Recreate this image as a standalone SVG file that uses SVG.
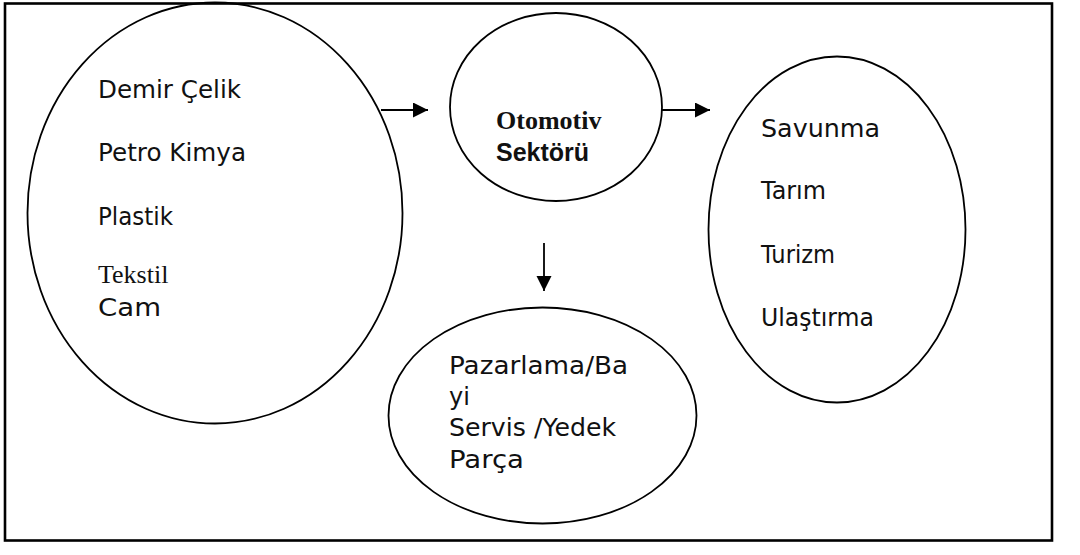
<svg xmlns="http://www.w3.org/2000/svg" width="1080" height="555" viewBox="0 0 1080 555">
<style>
.node{fill:none;stroke:#000;stroke-width:1.8}
.t{font-family:"DejaVu Sans","Liberation Sans",sans-serif;font-size:24px;fill:#111}
.ts{font-family:"Liberation Serif","Times New Roman",serif;font-size:26px;fill:#111}
.tb{font-family:"Liberation Serif","Times New Roman",serif;font-size:26px;font-weight:bold;fill:#111}
.tbs{font-family:"Liberation Sans",Arial,sans-serif;font-size:25px;font-weight:bold;fill:#111}
.c{stroke:#000;stroke-width:1.8;fill:none;marker-end:url(#ah)}
</style>
<defs>
<marker id="ah" markerUnits="userSpaceOnUse" markerWidth="16" markerHeight="16" refX="15" refY="7.5" orient="auto">
<path d="M0,0 L15,7.5 L0,15 Z" fill="#000"/>
</marker>
</defs>
<rect x="5" y="3.5" width="1047" height="537" fill="#fff" stroke="#000" stroke-width="2.6"/>
<g id="connectors">
<line class="c" x1="381" y1="110" x2="428" y2="110"/>
<line class="c" x1="662" y1="110" x2="710" y2="110"/>
<line class="c" x1="544" y1="243" x2="544" y2="291"/>
</g>
<g id="inputs">
<ellipse class="node" cx="215" cy="213" rx="187.5" ry="210.5"/>
<text class="t" x="98" y="98" textLength="143" lengthAdjust="spacingAndGlyphs">Demir Çelik</text>
<text class="t" x="98" y="161" textLength="148" lengthAdjust="spacingAndGlyphs">Petro Kimya</text>
<text class="t" x="98" y="224.5" textLength="75" lengthAdjust="spacingAndGlyphs">Plastik</text>
<text class="ts" x="98" y="283">Tekstil</text>
<text class="t" x="98" y="315.5" textLength="63" lengthAdjust="spacingAndGlyphs">Cam</text>
</g>
<g id="otomotiv">
<ellipse class="node" cx="556" cy="107" rx="106" ry="94"/>
<text class="tb" x="496" y="128.5">Otomotiv</text>
<text class="tbs" x="496" y="160.5">Sektörü</text>
</g>
<g id="outputs">
<ellipse class="node" cx="837" cy="229.5" rx="128.5" ry="173"/>
<text class="t" x="761" y="136.5" textLength="119" lengthAdjust="spacingAndGlyphs">Savunma</text>
<text class="t" x="761" y="199" textLength="65" lengthAdjust="spacingAndGlyphs">Tarım</text>
<text class="t" x="761" y="262.5" textLength="74" lengthAdjust="spacingAndGlyphs">Turizm</text>
<text class="t" x="761" y="325.5" textLength="113" lengthAdjust="spacingAndGlyphs">Ulaştırma</text>
</g>
<g id="pazarlama">
<ellipse class="node" cx="542.5" cy="415.5" rx="154" ry="108"/>
<text class="t" x="449" y="373.5" textLength="179" lengthAdjust="spacingAndGlyphs">Pazarlama/Ba</text>
<text class="t" x="449" y="405">yi</text>
<text class="t" x="449" y="436" textLength="167" lengthAdjust="spacingAndGlyphs">Servis /Yedek</text>
<text class="t" x="449" y="468" textLength="75" lengthAdjust="spacingAndGlyphs">Parça</text>
</g>
</svg>
